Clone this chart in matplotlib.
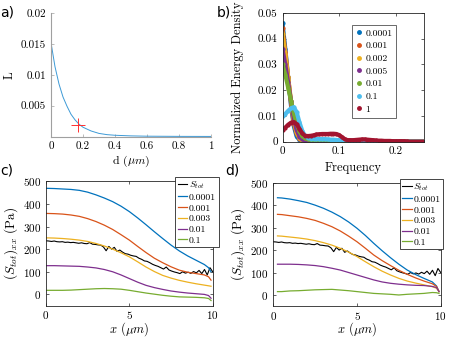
import numpy as np
import matplotlib
matplotlib.use('Agg')
import matplotlib.pyplot as plt
from matplotlib.lines import Line2D
from matplotlib.ticker import FuncFormatter

plt.rcParams['font.family'] = 'cmr10'
plt.rcParams['mathtext.fontset'] = 'cm'
plt.rcParams['axes.formatter.use_mathtext'] = True
plt.rcParams['xtick.direction'] = 'in'
plt.rcParams['ytick.direction'] = 'in'

W, H = 463, 337

# ---- panel a: L vs d
d_vals = [0, 0.025, 0.05, 0.075, 0.1, 0.125, 0.15, 0.175, 0.2, 0.25, 0.3, 0.35,
          0.4, 0.5, 0.6, 0.8, 1.0]
L_vals = [0.0152, 0.0113, 0.0085, 0.0064, 0.0049, 0.0036, 0.0027, 0.0020, 0.0015,
          0.0009, 0.0005, 0.0003, 0.0002, 0.0001, 0.00005, 0.00002, 0.00001]
d_pick, L_pick = 0.17, 0.0019

# ---- panel b: normalized energy density vs frequency
freq = np.arange(51) * 0.005
energy = {
    '0.0001': [0.046, 0.036, 0.025, 0.014, 0.006, 0.002, 0.0008, 0.0003, 0.0001],
    '0.001': [0.044, 0.035, 0.025, 0.015, 0.007, 0.003, 0.0012, 0.0005, 0.0002],
    '0.002': [0.042, 0.034, 0.025, 0.016, 0.008, 0.0035, 0.0015, 0.0006, 0.0002, 0.0001],
    '0.005': [0.036, 0.030, 0.023, 0.016, 0.009, 0.0045, 0.002, 0.0009, 0.0004, 0.0002,
              0.0001],
    '0.01': [0.030, 0.026, 0.021, 0.016, 0.011, 0.007, 0.004, 0.0022, 0.0013, 0.0009,
             0.0007, 0.0006, 0.0006, 0.0006, 0.0005, 0.0005, 0.0004, 0.0004, 0.0003,
             0.0003, 0.0002, 0.0002, 0.0001, 0.0001, 0.0001],
    '0.1': [0.0098, 0.0108, 0.0120, 0.0130, 0.0134, 0.0115, 0.0075, 0.0042, 0.0022,
            0.0015, 0.0012, 0.0011, 0.0011, 0.0010, 0.0010, 0.0010, 0.0009, 0.0008,
            0.0008, 0.0007, 0.0006, 0.0005, 0.0005, 0.0004, 0.0004, 0.0004, 0.0003,
            0.0003, 0.0002, 0.0002, 0.0002, 0.0001, 0.0001],
    '1': [0.0047, 0.0055, 0.0066, 0.0074, 0.0076, 0.0068, 0.0050, 0.0032, 0.0023,
          0.0022, 0.0023, 0.0025, 0.0028, 0.0029, 0.0030, 0.0030, 0.0030, 0.0031,
          0.0031, 0.0030, 0.0026, 0.0018, 0.0010, 0.0006, 0.0006, 0.0006, 0.0007,
          0.0008, 0.0009, 0.0009, 0.0008, 0.0007, 0.0006, 0.0005, 0.0004, 0.0004,
          0.0003, 0.0003, 0.0003, 0.0002, 0.0002, 0.0002, 0.0002, 0.0002, 0.0001],
}
energy_colors = ['#0072BD', '#D95319', '#EDB120', '#7E2F8E', '#77AC30', '#4DBEEE', '#A2142F']

# ---- panels c, d: stress profiles
s_tot = [237, 236, 234, 236, 233, 232, 233, 230, 231, 229, 230, 228, 226, 228, 225,
         224, 229, 222, 221, 219, 218, 210, 193, 212, 200, 208, 190, 196, 187, 180,
         178, 173, 170, 168, 160, 155, 148, 146, 140, 133, 128, 124, 118, 112, 121,
         108, 103, 99, 96, 92, 100, 94, 98, 93, 101, 95, 106, 92, 110, 86, 118, 100]
x_tot = np.linspace(0, 10, len(s_tot))

labels_cd = ['0.0001', '0.001', '0.003', '0.01', '0.1']
colors_cd = ['#0072BD', '#D95319', '#EDB120', '#7E2F8E', '#77AC30']

x_c = [0, 0.5, 1, 1.5, 2, 2.5, 3, 3.5, 4, 4.5, 5, 5.5, 6, 6.5, 7, 7.5, 8, 8.5, 9,
       9.5, 9.75, 9.9]
stress_c = [
    [469, 468, 466, 464, 460, 452, 440, 426, 410, 390, 366, 338, 308, 277, 247, 218,
     192, 170, 151, 132, 118, 100],
    [358, 357, 355, 351, 345, 335, 322, 306, 287, 264, 240, 212, 185, 160, 140, 122,
     107, 98, 92, 86, 78, 63],
    [250, 249, 247, 244, 240, 234, 225, 214, 200, 184, 166, 144, 121, 101, 84, 72,
     62, 54, 47, 41, 38, 36],
    [127, 127, 126, 125, 124, 121, 117, 110, 100, 86, 70, 54, 40, 30, 22, 15, 10, 6,
     3, 0, -5, -17],
    [18, 18, 18, 19, 21, 23, 25, 26, 25, 23, 18, 12, 6, 1, -4, -8, -11, -12, -13, -15,
     -18, -27],
]

x_d = [0.25, 0.5, 1, 1.5, 2, 2.5, 3, 3.5, 4, 4.5, 5, 5.5, 6, 6.5, 7, 7.5, 8, 8.5, 9,
       9.5, 9.75, 9.9]
stress_d = [
    [433, 432, 427, 420, 412, 400, 386, 369, 349, 325, 297, 265, 230, 197, 166, 137,
     111, 91, 74, 58, 40, 15],
    [359, 358, 353, 348, 341, 332, 319, 304, 285, 262, 237, 208, 178, 153, 131, 110,
     92, 76, 62, 50, 38, 15],
    [263, 262, 258, 254, 249, 242, 233, 222, 208, 191, 171, 148, 126, 106, 89, 74,
     62, 53, 45, 37, 30, 15],
    [137, 137, 137, 136, 134, 131, 126, 119, 111, 100, 89, 78, 67, 58, 52, 48, 45,
     43, 42, 38, 33, 15],
    [15, 15, 18, 19, 21, 23, 24, 25, 22, 19, 15, 11, 7, 5, 3, 0, 3, 5, 7, 11, 10, 7],
]


def ax_px(fig, left, top, right, bottom):
    return fig.add_axes([left / W, 1 - bottom / H, (right - left) / W, (bottom - top) / H])


def style_box(ax):
    for sp in ax.spines.values():
        sp.set_color('#262626')
        sp.set_linewidth(0.6)
    ax.tick_params(labelsize=8, length=2.5, width=0.5, colors='#262626', labelcolor='black')
    ax.tick_params(top=True, right=True)


gfmt = FuncFormatter(lambda v, p: '{:g}'.format(round(v, 6)))

fig = plt.figure(figsize=(W / 100, H / 100), dpi=100)

# a)
ax = ax_px(fig, 51, 13, 211, 136.5)
ax.plot(d_vals, L_vals, color='#3d9ad6', lw=0.7)
ax.plot([d_pick], [L_pick], marker='+', color='#ff3030', ms=10, mew=0.7)
ax.set_xlim(0, 1)
ax.set_ylim(0, 0.02)
ax.set_xticks(np.arange(0, 1.01, 0.2))
ax.set_yticks([0.005, 0.01, 0.015, 0.02])
ax.xaxis.set_major_formatter(gfmt)
ax.yaxis.set_major_formatter(gfmt)
for s in ['top', 'right']:
    ax.spines[s].set_visible(False)
for s in ['left', 'bottom']:
    ax.spines[s].set_color('#a0a0a0')
    ax.spines[s].set_linewidth(0.8)
ax.tick_params(labelsize=8, length=2.5, width=0.5, colors='#a0a0a0', labelcolor='black')
ax.set_xlabel(r'd ($\mu m$)', fontsize=8.5, labelpad=2)
ax.set_ylabel('L', fontsize=9, labelpad=4)

# b)
ax = ax_px(fig, 282.5, 13, 424, 141.7)
handles = []
for (lab, vals), col in zip(energy.items(), energy_colors):
    vals = list(vals) + [0.0] * (len(freq) - len(vals))
    ax.plot(freq, vals, color=col, lw=3, marker='.', ms=4)
    handles.append(Line2D([], [], color=col, ls='none', marker='.', ms=5))
ax.set_xlim(0, 0.25)
ax.set_ylim(0, 0.05)
ax.set_xticks([0, 0.1, 0.2])
ax.set_yticks(np.arange(0, 0.051, 0.01))
ax.xaxis.set_major_formatter(gfmt)
ax.yaxis.set_major_formatter(gfmt)
style_box(ax)
ax.set_xlabel('Frequency', fontsize=9, labelpad=4)
ax.set_ylabel('Normalized Energy Density', fontsize=9, labelpad=2)
ax.yaxis.set_label_coords(-0.27, 0.5)
leg = ax.legend(handles, list(energy.keys()), loc='upper left',
                bbox_to_anchor=(351.7 / W, 1 - 25 / H), bbox_transform=fig.transFigure,
                fontsize=7, frameon=True, fancybox=False, handlelength=0.7,
                handletextpad=0.3, borderpad=0.4, labelspacing=0.4, borderaxespad=0)
leg.get_frame().set_edgecolor('#262626')
leg.get_frame().set_linewidth(0.6)


def stress_panel(ax, xs, curves, leg_right, leg_top):
    h_tot, = ax.plot(x_tot, s_tot, color='black', lw=0.8)
    hs = [h_tot]
    for vals, col in zip(curves, colors_cd):
        h, = ax.plot(xs, vals, color=col, lw=0.9)
        hs.append(h)
    ax.set_xlim(0, 10)
    ax.set_ylim(-50, 500)
    ax.set_xticks([0, 5, 10])
    ax.set_yticks(np.arange(0, 501, 100))
    style_box(ax)
    ax.tick_params(axis='x', pad=2.5)
    ax.set_xlabel(r'$x$ ($\mu m$)', fontsize=9, labelpad=-1)
    ax.set_ylabel(r'$(S_{tot})_{xx}$ (Pa)', fontsize=9.5, labelpad=2)
    lg = ax.legend(hs, [r'$S_{tot}$'] + labels_cd, loc='upper right',
                   bbox_to_anchor=(leg_right / W, 1 - leg_top / H),
                   bbox_transform=fig.transFigure, fontsize=7, frameon=True,
                   fancybox=False, handlelength=1.0, handletextpad=0.15, borderpad=0.25,
                   labelspacing=0.2, borderaxespad=0, framealpha=1)
    lg.get_frame().set_edgecolor('#262626')
    lg.get_frame().set_linewidth(0.6)


# c)
ax = ax_px(fig, 46, 181.3, 212.7, 305.7)
stress_panel(ax, x_c, stress_c, 218.5, 177)

# d)
ax = ax_px(fig, 273.3, 182.7, 440.7, 306.2)
stress_panel(ax, x_d, stress_d, 443, 179)

for txt, x, y in [('a)', 0, 12), ('b)', 217, 12), ('c)', 0, 170), ('d)', 225, 170)]:
    fig.text(x / W, 1 - y / H, txt, fontsize=10, family='DejaVu Sans', va='center', ha='left')

fig.savefig('out.png', dpi=100)
